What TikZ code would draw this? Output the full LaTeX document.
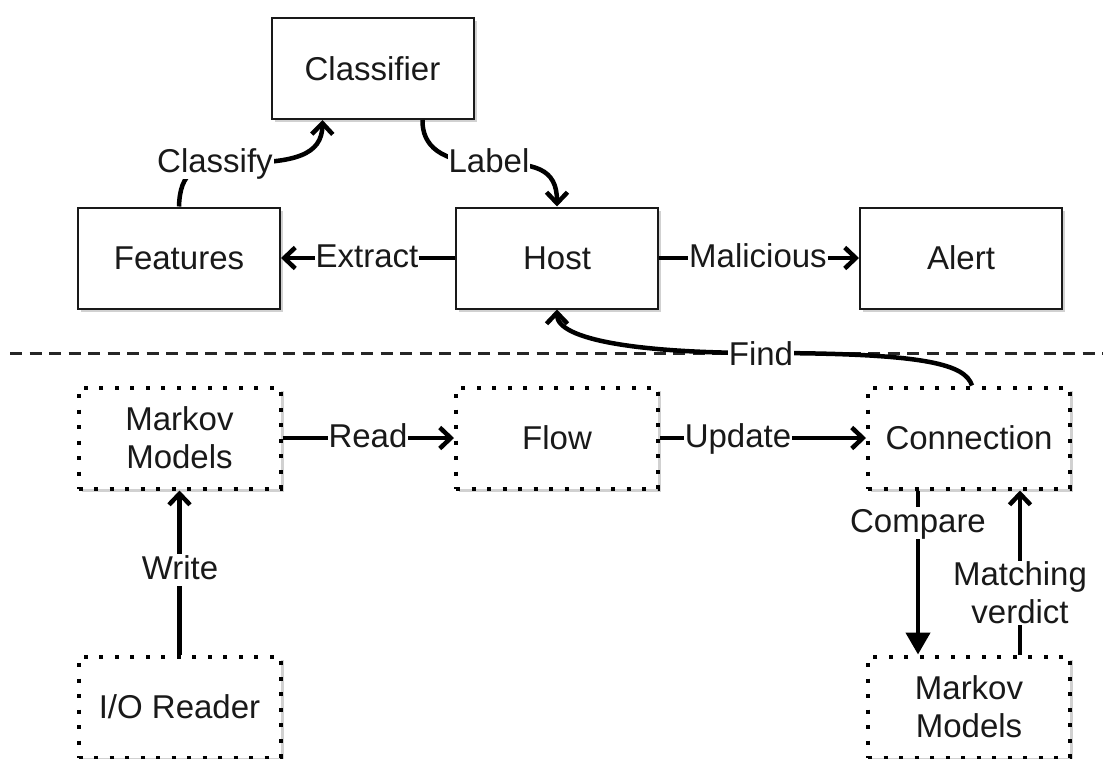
\documentclass[tikz,border=0pt]{standalone}
\usepackage{fontspec}
\setmainfont{Liberation Sans}
\usetikzlibrary{arrows.meta,shadows}
\begin{document}
\begin{tikzpicture}[x=1pt,y=-1pt,
  txt/.style={font=\fontsize{33}{38}\selectfont, text=black!90},
  box/.style={txt, draw=black!90, line width=2pt, fill=white,
    minimum width=202pt, minimum height=101pt, align=center,
    drop shadow={shadow xshift=3pt, shadow yshift=-3pt, opacity=0.3, fill=black!60}},
  dotbox/.style={box, draw=black, line width=4pt, dash pattern=on 4pt off 11.5pt},
  lbl/.style={txt, fill=white, inner sep=1pt, align=center,
    text height=24pt, text depth=6pt},
  link/.style={draw=black, line width=4.5pt,
    -{Straight Barb[length=11pt,width=21pt,line width=4.5pt]}},
  blocklink/.style={link, -{Triangle[length=22pt,width=24pt]}},
  sep/.style={draw=black!85, line width=3pt, dash pattern=on 12pt off 7.5pt}
]
\useasboundingbox (0,0) rectangle (1103,758);

% upper part: host analysis
\node[box] (C) at (372.5,68.5) {Classifier};
\node[box] (F) at (179,258) {Features};
\node[box] (H) at (557,258) {Host};
\node[box] (A) at (961,258) {Alert};

% separator between the two layers
\draw[sep] (10,353) -- (1103,353);

% lower part: flow processing
\node[dotbox] (ML) at (179.5,438) {Markov\\Models};
\node[dotbox] (FL) at (557,438) {Flow};
\node[dotbox] (CN) at (969,438) {Connection};
\node[dotbox] (IO) at (179.5,707) {I/O Reader};
\node[dotbox] (MR) at (969,707) {Markov\\Models};

% connectors of the upper part
\draw[link] (F.north) .. controls (180,172) and (195,163) .. (235,163)
  .. controls (295,163) and (322,155) .. ([xshift=-50pt]C.south);
\node[lbl] (lcl) at (215,163) {Classify};

\draw[link] ([xshift=50pt]C.south) .. controls (422,145) and (440,163) .. (489,163)
  .. controls (535,163) and (557,168) .. (H.north);
\node[lbl] (llb) at (489,163) {Label};

\draw[link] (H.west) -- (F.east);
\node[lbl] (lex) at (367,258) {Extract};

\draw[link] (H.east) -- (A.west);
\node[lbl] (lml) at (758,258) {Malicious};

\draw[link] ([xshift=3pt]CN.north) .. controls (965,365) and (930,353) .. (761,353)
  .. controls (640,353) and (557,340) .. (H.south);
\node[lbl] (lfd) at (761,356) {Find};

% connectors of the lower part
\draw[link] (ML.east) -- (FL.west);
\node[lbl] (lrd) at (368,438) {Read};

\draw[link] (FL.east) -- (CN.west);
\node[lbl] (lup) at (738,438) {Update};

\draw[link] (IO.north) -- (ML.south);
\node[lbl] (lwr) at (180,570) {Write};

\draw[blocklink] ([xshift=-51pt]CN.south) -- ([xshift=-51pt]MR.north);
\node[lbl] (lcp) at (918,523) {Compare};

\draw[link] ([xshift=51pt]MR.north) -- ([xshift=51pt]CN.south);
\node[lbl, text height=, text depth=] (lmv) at (1020,593) {Matching\\verdict};
\end{tikzpicture}
\end{document}
